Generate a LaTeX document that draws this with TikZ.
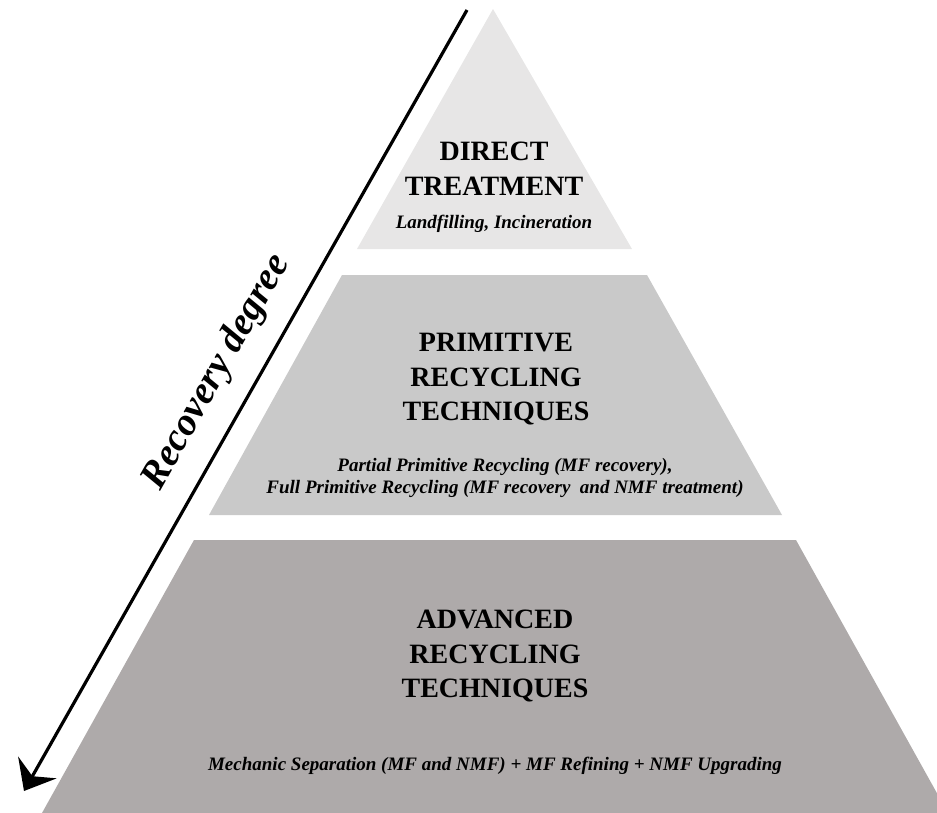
\documentclass[tikz,border=0pt]{standalone}
\usepackage{fontspec}
\setmainfont{Liberation Serif}
\usetikzlibrary{arrows.meta}
\definecolor{lvl_top}{HTML}{E7E6E6}
\definecolor{lvl_mid}{HTML}{C9C9C9}
\definecolor{lvl_low}{HTML}{AEAAAA}
\tikzset{
  lvl_title/.style = {align=center, inner sep=0pt, font=\fontsize{28}{34.5}\selectfont\bfseries},
  lvl_note/.style = {align=center, inner sep=0pt, font=\fontsize{19}{22}\selectfont\bfseries\itshape},
  deg_arrow/.style = {line width=3.2pt, -{Stealth[length=27pt,width=44pt,inset=10pt]}},
  deg_label/.style = {inner sep=0pt, rotate=60.5, font=\fontsize{39}{42}\selectfont\bfseries\itshape}
}

\begin{document}
\begin{tikzpicture}[x=1pt, y=-1pt]
\useasboundingbox (0,0) rectangle (937,813);
\clip (0,0) rectangle (937,813);
% pyramid levels
\fill [lvl_top] (493,9) -- (632,249) -- (357,249) -- cycle;
\fill [lvl_mid] (342,275) -- (647,275) -- (782,515) -- (209,515) -- cycle;
\fill [lvl_low] (194,540) -- (796,540) -- (948,813) -- (42,813) -- cycle;
% level texts
\node [lvl_title, anchor=north] (direct) at (494,142) {DIRECT\\TREATMENT};
\node [lvl_note, anchor=base] (landfill) at (494,229) {Landfilling, Incineration};
\node [lvl_title, anchor=north] (primitive) at (496,333) {PRIMITIVE\\RECYCLING\\TECHNIQUES};
\node [lvl_note, anchor=north] (partial) at (505,458)
	{Partial Primitive Recycling (MF recovery),\\Full Primitive Recycling (MF recovery\ \ and NMF treatment)};
\node [lvl_title, anchor=north] (advanced) at (495,610) {ADVANCED\\RECYCLING\\TECHNIQUES};
\node [lvl_note, anchor=base] (mechanic) at (495,770) {Mechanic Separation (MF and NMF) + MF Refining + NMF Upgrading};
% recovery arrow
\coordinate (deg_top) at (467,10);
\coordinate (deg_end) at (24,791);
\draw [deg_arrow] (deg_top) -- (deg_end);
\node [deg_label] (recovery) at (217,372) {Recovery degree};
\end{tikzpicture}
\end{document}
